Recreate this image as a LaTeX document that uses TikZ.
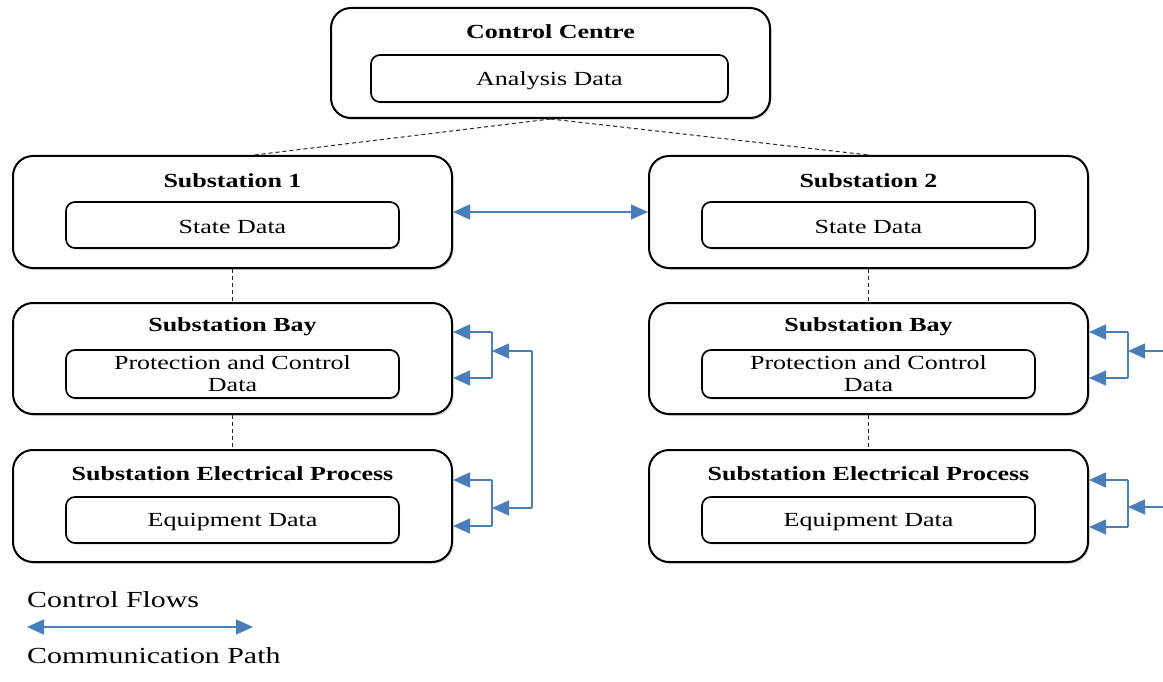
\documentclass[tikz,border=0pt]{standalone}
\usepackage{fontspec}
\setmainfont{Liberation Serif}[FakeStretch=1.3]
\usetikzlibrary{arrows.meta,shadows,calc}

\definecolor{flowblue}{HTML}{4A7EBB}

\tikzset{
  layer/.style={draw=black, line width=2pt, rounded corners=20pt, fill=white,
    minimum width=439pt, minimum height=111pt,
    drop shadow={shadow xshift=1.5pt, shadow yshift=-2pt, opacity=0.3}},
  databox/.style={draw=black, line width=1.7pt, rounded corners=9pt, fill=white,
    minimum width=333pt, minimum height=46pt, align=center,
    font=\fontsize{20}{22}\selectfont,
    drop shadow={shadow xshift=1pt, shadow yshift=-1.5pt, opacity=0.3}},
  title/.style={font=\fontsize{20}{22}\selectfont\bfseries},
  hier/.style={dash pattern=on 4pt off 3pt, line width=1pt, black!85},
  flow/.style={draw=flowblue, line width=1.4pt},
  tip/.style={flow, -{Triangle[length=17pt,width=15pt]}},
  both/.style={flow, {Triangle[length=17pt,width=15pt]}-{Triangle[length=17pt,width=15pt]}},
  legend/.style={anchor=west, inner sep=0pt, font=\fontsize{23}{26}\selectfont}
}

\begin{document}
\begin{tikzpicture}[x=1pt, y=-1pt]
\useasboundingbox (0,0) rectangle (1163,682);

% control centre
\node[layer, minimum height=110pt] (cc) at (550.5,63) {};
\node[title] (cct) at (550.5,32) {Control Centre};
\node[databox, minimum width=357pt, minimum height=47pt] (ccd) at (549.5,78.5) {};
\node[font=\fontsize{20}{22}\selectfont] (ccl) at (549.5,80.5) {Analysis Data};

% substations
\node[layer, minimum height=112pt] (s1) at (232.5,212) {};
\node[title] (s1t) at (232.5,181) {Substation 1};
\node[databox] (s1d) at (232.5,225) {};
\node[font=\fontsize{20}{22}\selectfont] (s1l) at (232.5,227) {State Data};

\node[layer, minimum height=112pt] (s2) at (868.5,212) {};
\node[title] (s2t) at (868.5,181) {Substation 2};
\node[databox] (s2d) at (868.5,225) {};
\node[font=\fontsize{20}{22}\selectfont] (s2l) at (868.5,227) {State Data};

% bays
\node[layer] (b1) at (232.5,358.5) {};
\node[title] (b1t) at (232.5,327) {Substation Bay};
\node[databox, minimum height=48pt] (b1d) at (232.5,374) {Protection and Control\\Data};

\node[layer] (b2) at (868.5,358.5) {};
\node[title] (b2t) at (868.5,327) {Substation Bay};
\node[databox, minimum height=48pt] (b2d) at (868.5,374) {Protection and Control\\Data};

% electrical processes
\node[layer, minimum height=112pt] (p1) at (232.5,506) {};
\node[title] (p1t) at (232.5,474) {Substation Electrical Process};
\node[databox] (p1d) at (232.5,520) {};
\node[font=\fontsize{20}{22}\selectfont] (p1l) at (232.5,522) {Equipment Data};

\node[layer, minimum height=112pt] (p2) at (868.5,506) {};
\node[title] (p2t) at (868.5,474) {Substation Electrical Process};
\node[databox] (p2d) at (868.5,520) {};
\node[font=\fontsize{20}{22}\selectfont] (p2l) at (868.5,522) {Equipment Data};

% hierarchy links
\draw[hier] (cc.south) -- ([xshift=22pt]s1.north);
\draw[hier] (cc.south) -- (s2.north);
\draw[hier] (s1.south) -- (b1.north);
\draw[hier] (b1.south) -- (p1.north);
\draw[hier] (s2.south) -- (b2.north);
\draw[hier] (b2.south) -- (p2.north);

% communication path between substations
\draw[both] (s1.east) -- (s2.west);

% control flows, left column
\coordinate (lbt) at (492,332);
\coordinate (lbb) at (492,378);
\coordinate (lbj) at (492,351);
\coordinate (lpt) at (492,480);
\coordinate (lpb) at (492,526);
\coordinate (lpj) at (492,508);
\coordinate (lfa) at (532,351);
\coordinate (lfb) at (532,508);
\draw[flow] (lbt) -- (lbb);
\draw[tip] (lbt) -- (b1.east |- lbt);
\draw[tip] (lbb) -- (b1.east |- lbb);
\draw[flow] (lpt) -- (lpb);
\draw[tip] (lpt) -- (p1.east |- lpt);
\draw[tip] (lpb) -- (p1.east |- lpb);
\draw[flow] (lfa) -- (lfb);
\draw[tip] (lfa) -- (lbj);
\draw[tip] (lfb) -- (lpj);

% control flows, right column
\coordinate (rbt) at (1128,332);
\coordinate (rbb) at (1128,378);
\coordinate (rbj) at (1128,351);
\coordinate (rpt) at (1128,480);
\coordinate (rpb) at (1128,527);
\coordinate (rpj) at (1128,507);
\coordinate (rfa) at (1163,351);
\coordinate (rfb) at (1163,507);
\draw[flow] (rbt) -- (rbb);
\draw[tip] (rbt) -- (b2.east |- rbt);
\draw[tip] (rbb) -- (b2.east |- rbb);
\draw[flow] (rpt) -- (rpb);
\draw[tip] (rpt) -- (p2.east |- rpt);
\draw[tip] (rpb) -- (p2.east |- rpb);
\draw[tip] (rfa) -- (rbj);
\draw[tip] (rfb) -- (rpj);

% legend
\node[legend] (lg1) at (27,600) {Control Flows};
\coordinate (lga) at (27,627);
\coordinate (lgb) at (253,627);
\draw[both] (lga) -- (lgb);
\node[legend] (lg2) at (27,656) {Communication Path};
\end{tikzpicture}
\end{document}
